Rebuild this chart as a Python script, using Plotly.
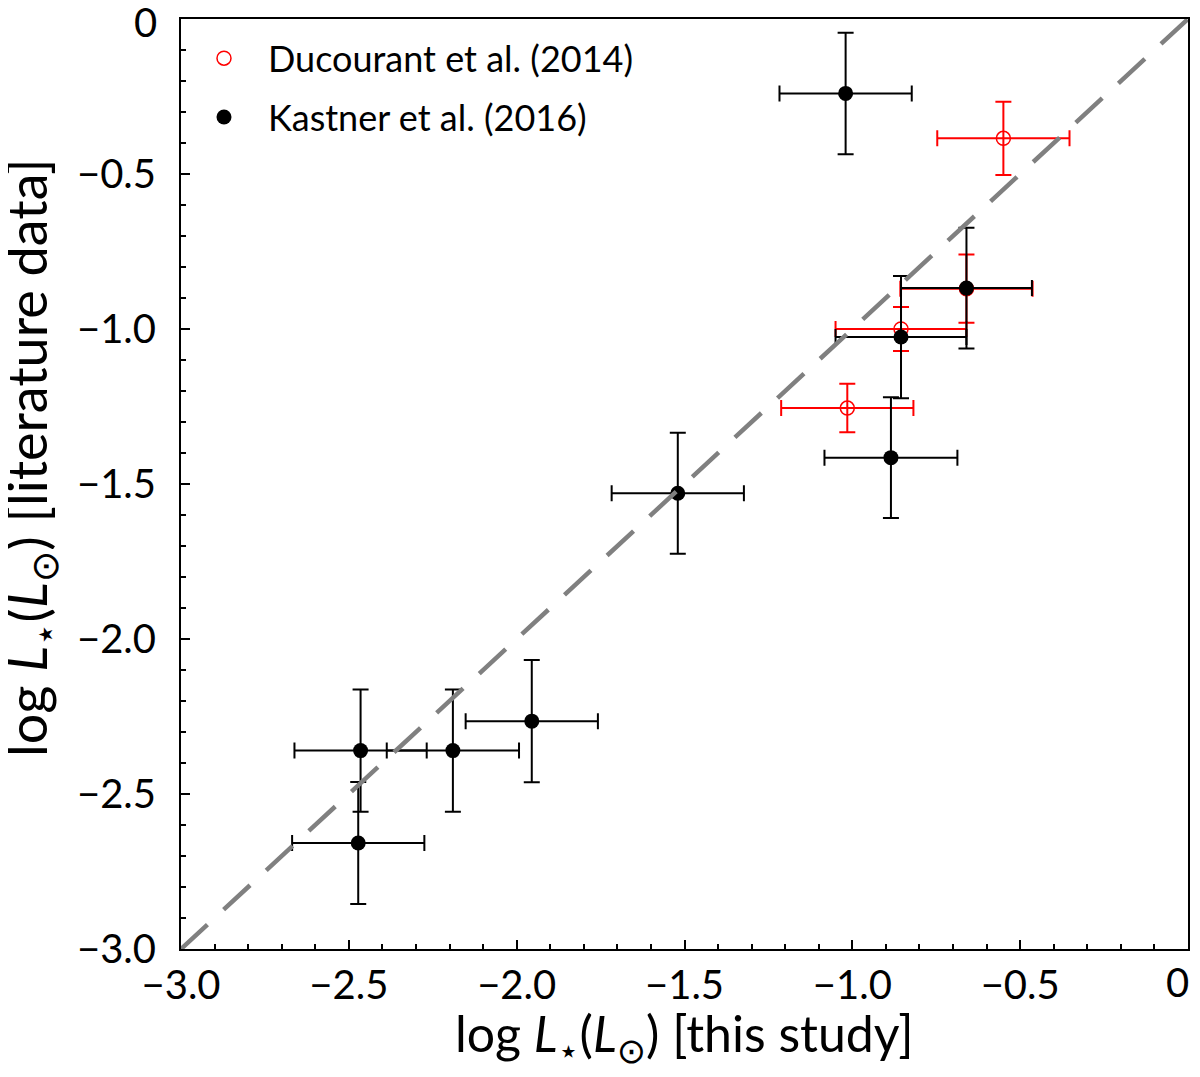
import plotly.graph_objects as go

# Ducourant et al. (2014)
duc_x = [-0.55, -0.66, -0.855, -1.015]
duc_y = [-0.385, -0.87, -1.0, -1.255]
duc_xerr = [0.197, 0.197, 0.195, 0.197]
duc_yerr = [0.118, 0.11, 0.071, 0.078]

# Kastner et al. (2016)
kas_x = [-1.02, -0.66, -0.855, -0.885, -1.52, -1.955, -2.19, -2.465, -2.472]
kas_y = [-0.24, -0.868, -1.026, -1.415, -1.53, -2.265, -2.36, -2.36, -2.658]
kas_xerr = [0.197, 0.195, 0.195, 0.198, 0.197, 0.197, 0.197, 0.197, 0.197]
kas_yerr = [0.196, 0.195, 0.197, 0.195, 0.195, 0.197, 0.197, 0.197, 0.197]

# 1:1 line
one_x = [-3.0, 0.0]
one_y = [-3.0, 0.0]

tick_vals = [-3.0, -2.5, -2.0, -1.5, -1.0, -0.5, 0.0]
tick_text = ['\u22123.0', '\u22122.5', '\u22122.0', '\u22121.5', '\u22121.0', '\u22120.5', '0']

font_name = 'Lato, DejaVu Sans, sans-serif'
lum = 'log <i>L</i><sub>\u22c6</sub>(<i>L</i><sub>\u2299</sub>)'

fig = go.Figure()

fig.add_trace(go.Scatter(
    x=duc_x, y=duc_y, mode='markers', name='Ducourant et al. (2014)', legendgroup='duc',
    marker=dict(symbol='circle-open', size=14, color='red', line=dict(width=1.5, color='red')),
    error_x=dict(type='data', array=duc_xerr, color='red', thickness=2, width=8),
    error_y=dict(type='data', array=duc_yerr, color='red', thickness=2, width=8),
))

fig.add_trace(go.Scatter(
    x=kas_x, y=kas_y, mode='markers', name='Kastner et al. (2016)', legendgroup='kas',
    marker=dict(symbol='circle', size=15, color='black'),
    error_x=dict(type='data', array=kas_xerr, color='black', thickness=2, width=8),
    error_y=dict(type='data', array=kas_yerr, color='black', thickness=2, width=8),
))

fig.add_trace(go.Scatter(
    x=one_x, y=one_y, mode='lines', showlegend=False, hoverinfo='skip',
    line=dict(color='#808080', width=4.5, dash='36px,22px'),
))

axis_style = dict(
    tickvals=tick_vals,
    ticks='inside', ticklen=9, tickwidth=1.5, tickcolor='black',
    minor=dict(dtick=0.1, ticks='inside', ticklen=5, tickwidth=1.5, tickcolor='black'),
    showline=True, linecolor='black', linewidth=2, mirror=True,
    showgrid=False, zeroline=False, automargin=False,
    ticklabeloverflow='allow',
    tickfont=dict(size=40, color='black', family=font_name),
)

# the two "0" labels at the corners are annotations so they stay inside the page
fig.update_xaxes(range=[-3, 0], ticklabelstandoff=0, ticktext=tick_text[:-1] + [''], **axis_style)
fig.update_yaxes(range=[-3, 0], ticklabelstandoff=15, ticktext=tick_text[:-1] + [''], **axis_style)

tick_font = dict(size=40, color='black', family=font_name)
fig.add_annotation(
    text=tick_text[-1], xref='paper', yref='paper', x=0, y=1, xshift=-22, yshift=-3,
    xanchor='right', yanchor='middle', showarrow=False, font=tick_font,
)
fig.add_annotation(
    text=tick_text[-1], xref='paper', yref='paper', x=1, y=0, xshift=3, yshift=-33,
    xanchor='right', yanchor='middle', showarrow=False, font=tick_font,
)

title_font = dict(color='black', family=font_name)
fig.add_annotation(
    text=lum + ' [this study]',
    xref='paper', yref='paper', x=0.5, y=0, yshift=-87,
    xanchor='center', yanchor='middle', showarrow=False,
    font=dict(size=50, **title_font),
)
# y title sits a bit above the axis centre in the original
fig.add_annotation(
    text=lum + ' [literature data]', textangle=-90,
    xref='paper', yref='paper', x=0, y=0.528, xshift=-151,
    xanchor='center', yanchor='middle', showarrow=False,
    font=dict(size=54, **title_font),
)

# page body adds an 8px margin, so the figure starts at (8, 8)
fig.update_layout(
    width=1192, height=1061,
    margin=dict(l=173, r=12, t=11, b=120),
    paper_bgcolor='white', plot_bgcolor='white',
    showlegend=True,
    legend=dict(x=-0.001, y=0.99, xanchor='left', yanchor='top',
                font=dict(size=36, color='black', family=font_name),
                itemwidth=78, bgcolor='rgba(0,0,0,0)', tracegroupgap=9),
)

fig.write_html("out.html")
